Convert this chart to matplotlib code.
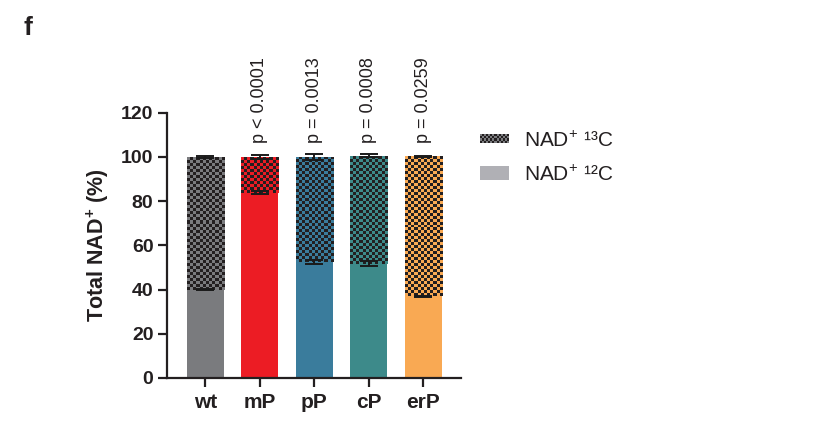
import numpy as np
import matplotlib
matplotlib.use("Agg")
import matplotlib.pyplot as plt
from matplotlib.colors import to_rgb

plt.rcParams['font.family'] = ['Liberation Sans', 'DejaVu Sans']
plt.rcParams['mathtext.fontset'] = 'custom'
plt.rcParams['mathtext.rm'] = 'Liberation Sans'
plt.rcParams['mathtext.bf'] = 'Liberation Sans:bold'

# data
groups = ['wt', 'mP', 'pP', 'cP', 'erP']
nad_12c = [40.0, 83.8, 52.5, 51.7, 37.0]
nad_total = [100.0, 100.0, 100.0, 100.4, 100.2]
err_12c = [0.4, 0.6, 1.0, 1.0, 0.2]
err_total = [0.4, 0.8, 1.3, 0.7, 0.1]
p_labels = ['p < 0.0001', 'p = 0.0013', 'p = 0.0008', 'p = 0.0259']
colors = ['#7a7b7e', '#ec1c24', '#3a7c9c', '#3d8a8a', '#f9a953']
dark = '#231f20'


def checker_img(color, ncols, nrows):
    grid = np.indices((nrows, ncols)).sum(axis=0) % 2
    c1 = np.array(to_rgb(color))
    c2 = np.array(to_rgb(dark))
    return np.where(grid[..., None] == 1, c2, c1)


fig = plt.figure(figsize=(8.27, 4.28), dpi=100)
ax = fig.add_axes([167 / 827, 1 - 378 / 428, 294 / 827, 265.5 / 428])

x = np.arange(len(groups))
width = 0.68
px_per_unit = 265.5 / 120

# 12C part (solid)
ax.bar(x, nad_12c, width=width, color=colors, zorder=2)

# 13C part (checkered)
tops = np.array(nad_total) - np.array(nad_12c)
bars13 = ax.bar(x, tops, width=width, bottom=nad_12c, color='none', zorder=2)
for i, b in enumerate(bars13):
    x0, y0 = b.get_x(), b.get_y()
    x1, y1 = x0 + b.get_width(), y0 + b.get_height()
    nrows = max(1, int(round(b.get_height() * px_per_unit / 3)))
    im = ax.imshow(checker_img(colors[i], 12, nrows)[::-1], extent=(x0, x1, y0, y1),
                   aspect='auto', interpolation='nearest', origin='lower', zorder=2)
    im.set_clip_path(b)

# error bars
ax.errorbar(x, nad_12c, yerr=err_12c, fmt='none', ecolor='#1a1a1a',
            elinewidth=1.4, capsize=6.5, capthick=1.4, zorder=3)
ax.errorbar(x, nad_total, yerr=err_total, fmt='none', ecolor='#1a1a1a',
            elinewidth=1.4, capsize=6.5, capthick=1.4, zorder=3)

# p values
for xi, lab in zip(x[1:], p_labels):
    ax.text(xi, 106, lab, rotation=90, ha='center', va='bottom',
            fontsize=13, color='#231f20', clip_on=False)

ax.set_xlim(-0.705, 4.69)
ax.set_ylim(0, 120)
ax.set_yticks(np.arange(0, 121, 20))
ax.set_xticks(x)
ax.set_xticklabels(groups, fontweight='bold', fontsize=15)
for s in ['top', 'right']:
    ax.spines[s].set_visible(False)
for s in ['left', 'bottom']:
    ax.spines[s].set_linewidth(1.6)
    ax.spines[s].set_color('#231f20')
ax.tick_params(axis='both', length=6.8, width=1.6, color='#231f20',
               labelsize=14, labelcolor='#231f20')
ax.tick_params(axis='y', pad=3)
ax.tick_params(axis='x', pad=4, labelsize=15)
for t in ax.get_yticklabels():
    t.set_fontweight('bold')

ax.set_ylabel('Total NAD$^{\\mathbf{+}}$ (%)', fontsize=15.5, fontweight='bold',
              color='#231f20')
ax.yaxis.set_label_coords(-0.19, 0.5)

# legend (drawn by hand to get the checker swatch)
sw1 = fig.add_axes([480 / 827, 1 - 143 / 428, 29 / 827, 9 / 428])
sw1.imshow(checker_img('#7a7b7e', 14, 4), aspect='auto', interpolation='nearest')
sw1.axis('off')
sw2 = fig.add_axes([480 / 827, 1 - 180 / 428, 29 / 827, 14 / 428])
sw2.add_patch(plt.Rectangle((0, 0), 1, 1, color='#b0b0b5'))
sw2.set_xlim(0, 1)
sw2.set_ylim(0, 1)
sw2.axis('off')
fig.text(524 / 827, 1 - 147 / 428, 'NAD$^{+}$ \u00b9\u00b3C', fontsize=15,
         va='baseline', color='#231f20')
fig.text(524 / 827, 1 - 181 / 428, 'NAD$^{+}$ \u00b9\u00b2C', fontsize=15,
         va='baseline', color='#231f20')

fig.text(23 / 827, 1 - 35 / 428, 'f', fontsize=19, fontweight='bold',
         va='baseline', color='#231f20')

fig.savefig('out.png', dpi=100)
